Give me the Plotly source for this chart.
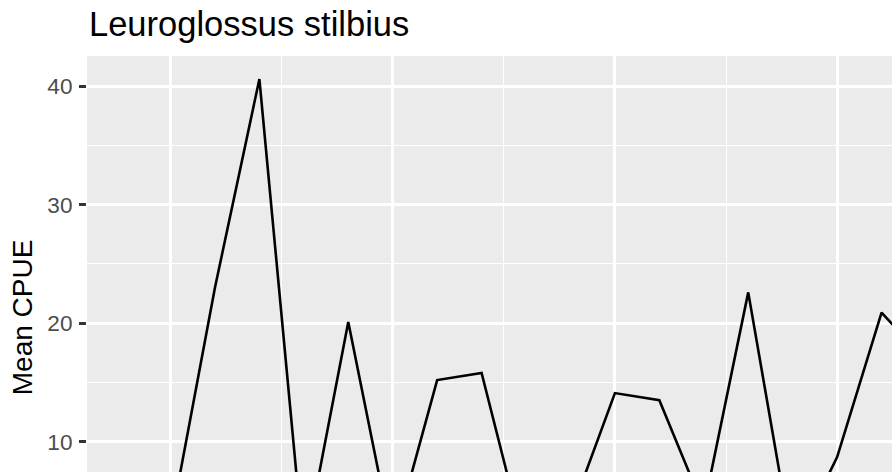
import plotly.graph_objects as go

# Annual mean catch per unit effort
years = list(range(2000, 2018))
mean_cpue = [3.0, 23.0, 40.6, 0.6, 20.1, 1.5, 15.2, 15.8, 1.0, 3.9,
             14.1, 13.5, 4.4, 22.6, 1.0, 8.7, 20.9, 16.8]

title_text = "Leuroglossus stilbius"
y_title = "Mean CPUE"
y_ticks = [10, 20, 30, 40]

W, H = 892, 472
ML, MT = 87, 56
plot_w, plot_h = W - ML, H - MT

FONT = "Liberation Sans, Arial, Helvetica, sans-serif"
PANEL = "#EBEBEB"

fig = go.Figure()
fig.add_trace(go.Scatter(
    x=years, y=mean_cpue, mode="lines",
    line=dict(color="black", width=2.6),
    hoverinfo="x+y", showlegend=False,
))

fig.update_layout(
    width=W, height=H,
    margin=dict(l=ML, r=0, t=MT, b=0, autoexpand=False),
    paper_bgcolor="white",
    plot_bgcolor=PANEL,
    font=dict(family=FONT),
    xaxis=dict(
        range=[2000 - 1.879, 2000 + 16.235],
        tick0=2000, dtick=5,
        showgrid=True, gridcolor="white", gridwidth=2.8,
        minor=dict(dtick=2.5, tick0=2000, showgrid=True,
                   gridcolor="white", gridwidth=1.4),
        showticklabels=False, ticks="", zeroline=False, showline=False,
    ),
    yaxis=dict(
        range=[7.44, 42.55],
        tickmode="array", tickvals=y_ticks,
        ticktext=[str(v) for v in y_ticks],
        ticks="outside", ticklen=7, tickwidth=2.8, tickcolor="#333333",
        ticklabelstandoff=2,
        tickfont=dict(family=FONT, size=22.6, color="#4D4D4D"),
        showgrid=True, gridcolor="white", gridwidth=2.8,
        minor=dict(dtick=5, tick0=0, showgrid=True,
                   gridcolor="white", gridwidth=1.4),
        zeroline=False, showline=False,
    ),
    annotations=[
        dict(text=title_text, xref="paper", yref="paper",
             x=0, y=1 + (MT - 24) / plot_h, xanchor="left", yanchor="middle",
             showarrow=False, font=dict(family=FONT, size=34.5, color="black")),
        dict(text=y_title, xref="paper", yref="paper",
             x=(22.5 - ML) / plot_w, y=1 + (MT - 317.7) / plot_h,
             xanchor="center", yanchor="middle", textangle=-90,
             showarrow=False, font=dict(family=FONT, size=28, color="black")),
    ],
)

fig.write_html("out.html")
